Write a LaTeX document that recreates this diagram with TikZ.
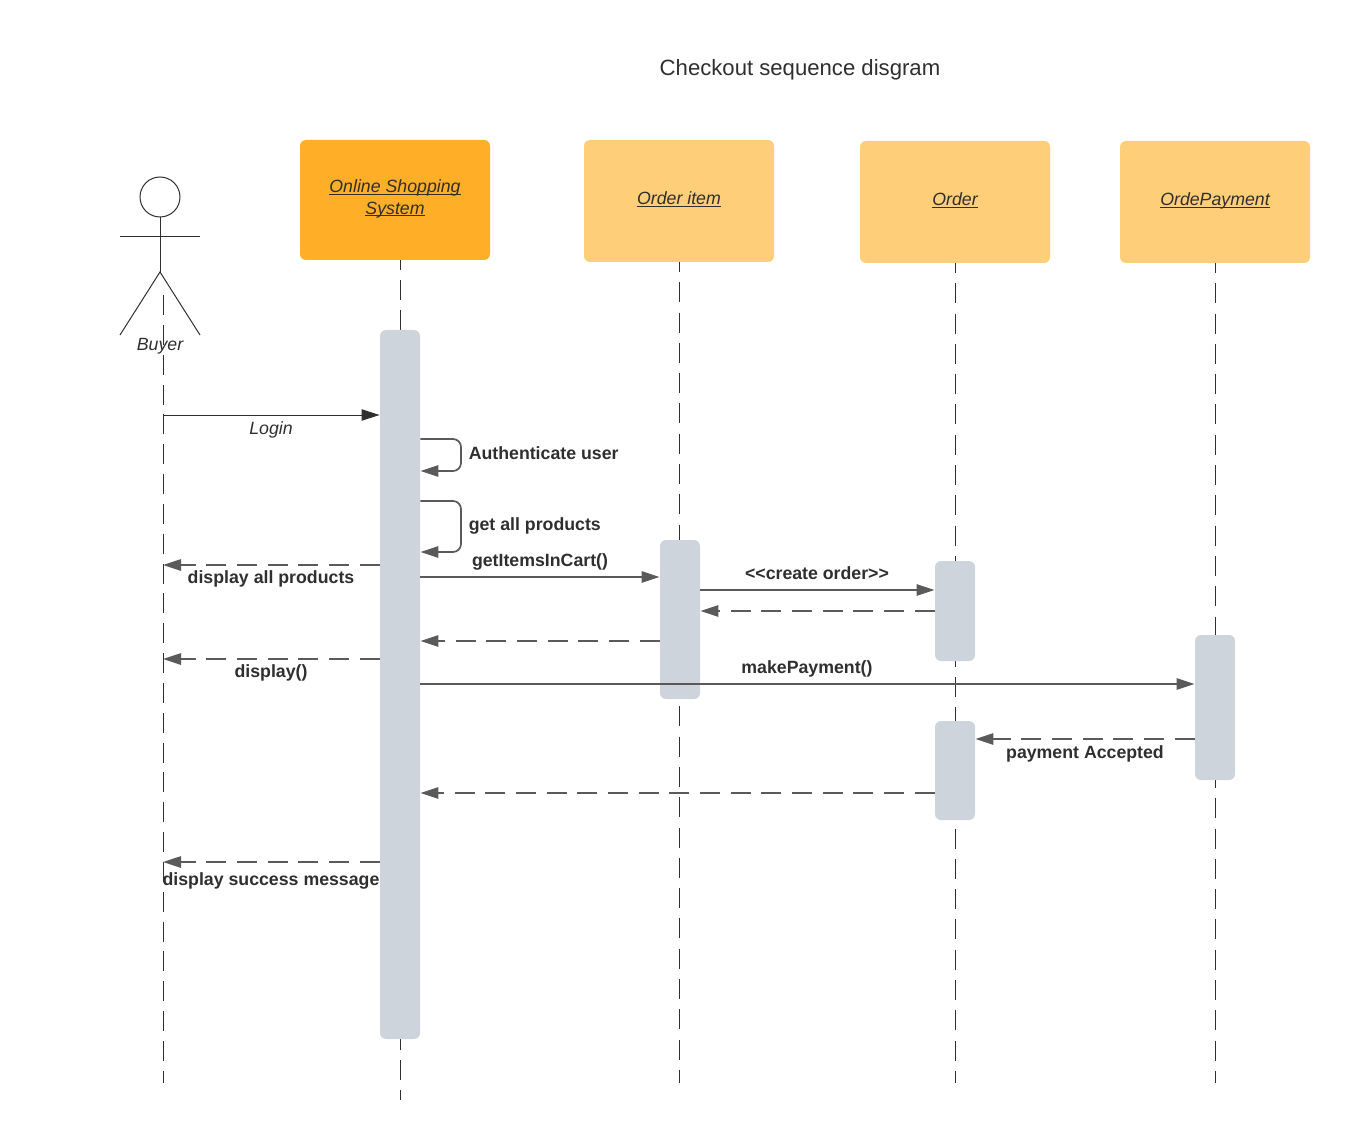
\documentclass[tikz,border=0pt]{standalone}
\usepackage{fontspec}
\setmainfont{Liberation Sans}
\usetikzlibrary{arrows.meta}
\definecolor{headdark}{HTML}{FFAE27}
\definecolor{headlight}{HTML}{FFCE78}
\definecolor{barfill}{HTML}{CED4DC}
\definecolor{msgline}{HTML}{5A5A5A}
\definecolor{txtdark}{HTML}{2F2F2F}
% underline that sits close under the baseline and cuts the descenders
\newcommand{\headul}[1]{\leavevmode\setbox0=\hbox{#1}\rlap{\rule[-1.6pt]{\wd0}{0.65pt}}\box0}
\tikzset{
    headbox/.style={rounded corners=4.5pt,minimum width=142.5pt,inner sep=0pt,outer sep=0pt,text=txtdark,align=center,font=\fontsize{13.3}{15.8}\selectfont\itshape},
    oneline/.style={text height=10pt,text depth=4.5pt},
    barbox/.style={fill=barfill,rounded corners=4.5pt,minimum width=30pt,minimum height=#1*0.75pt,inner sep=0pt,outer sep=0.3pt},
    msg/.style={line width=1.3pt,draw=msgline,-{Triangle[length=13.5pt,width=8.5pt,fill=msgline]}},
    backmsg/.style={msg,dash pattern=on 15pt off 8pt},
    lbl/.style={text=txtdark,inner sep=0pt,text height=12pt,text depth=3pt,font=\fontsize{13.3}{15}\selectfont\bfseries},
    itlbl/.style={text=txtdark,inner sep=0pt,text height=12pt,text depth=3pt,font=\fontsize{13.3}{15}\selectfont\itshape},
    stick/.style={line width=0.75pt,draw=txtdark}
}
\begin{document}
\begin{tikzpicture}[x=0.75pt,y=-0.75pt]
    \useasboundingbox (0,0) rectangle (1350,1141);
    \node [text=txtdark,inner sep=0pt,text height=12pt,text depth=3pt,font=\fontsize{16.6}{19}\selectfont] (title) at (800,70) {Checkout sequence disgram};
    % lifelines
    \foreach \name/\x/\top/\bot/\gap/\phase in {buyer/163/295/1083/7.38/0,sys/400.5/260/1100/7.5/7.5,item/679.5/262/1083/7.72/7.5,order/955/263/1083/7.72/7.5,pay/1215.5/263/1083/7.72/7.5}{%
        \coordinate (\name top) at (\x,\top);
        \coordinate (\name bot) at (\x,\bot);
        \draw [line width=0.75pt,draw=txtdark,dash pattern=on 15pt off \gap pt,dash phase=\phase pt] (\name top) -- (\name bot);
    }
    % header boxes
    \node [headbox,fill=headdark,minimum height=90pt] (syshead) at (395,200) {\headul{Online Shopping}\\\headul{System}\rule[-4.4pt]{0pt}{1pt}};
    \node [headbox,oneline,fill=headlight,minimum height=91.5pt] (itemhead) at (679,201) {\headul{Order item}};
    \node [headbox,oneline,fill=headlight,minimum height=91.5pt] (orderhead) at (955,202) {\headul{Order}};
    \node [headbox,oneline,fill=headlight,minimum height=91.5pt] (payhead) at (1215,202) {\headul{OrdePayment}};
    % actor
    \node [stick,draw,circle,minimum size=30pt,inner sep=0pt,outer sep=0pt] (head) at (160,197) {};
    \coordinate (hip) at (160,272);
    \coordinate (armL) at (120,237);
    \coordinate (armR) at (200,237);
    \coordinate (legL) at (120,335);
    \coordinate (legR) at (200,335);
    \draw [stick] (head.south) -- (hip);
    \draw [stick] (armL) -- (armR);
    \draw [stick] (legL) -- (hip) -- (legR);
    \node [itlbl] (buyer) at (160,344) {Buyer};
    % activation bars
    \node [barbox=709] (sysbar) at (400,684.5) {};
    \node [barbox=159] (itembar) at (680,619.5) {};
    \node [barbox=100] (orderbarA) at (955,611) {};
    \node [barbox=99] (orderbarB) at (955,770.5) {};
    \node [barbox=145] (paybar) at (1215,707.5) {};
    % messages
    \draw [line width=0.75pt,draw=txtdark,-{Triangle[length=13.5pt,width=8.5pt,fill=txtdark]}] (buyertop |- 0,415) -- (sysbar.west |- 0,415);
    \node [itlbl] (login) at (271,428) {Login};
    \draw [msg,rounded corners=6pt] (sysbar.east |- 0,439) -- (461,439) -- (461,471) -- (sysbar.east |- 0,471);
    \node [lbl,anchor=west] (auth) at (468.5,453) {Authenticate user};
    \draw [msg,rounded corners=6pt] (sysbar.east |- 0,501) -- (461,501) -- (461,552) -- (sysbar.east |- 0,552);
    \node [lbl,anchor=west] (allprod) at (468.5,524) {get all products};
    \draw [backmsg] (sysbar.west |- 0,565) -- (buyertop |- 0,565);
    \node [lbl] (dispall) at (271,577) {display all products};
    \draw [msg] (sysbar.east |- 0,577) -- (itembar.west |- 0,577);
    \node [lbl] (getitems) at (540,560) {getItemsInCart()};
    \draw [msg] (itembar.east |- 0,590) -- (orderbarA.west |- 0,590);
    \node [lbl] (create) at (817,573) {<{}<create order>{}>};
    \draw [backmsg] (orderbarA.west |- 0,611) -- (itembar.east |- 0,611);
    \draw [backmsg] (itembar.west |- 0,641) -- (sysbar.east |- 0,641);
    \draw [backmsg] (sysbar.west |- 0,659) -- (buyertop |- 0,659);
    \node [lbl] (disp) at (271,671) {display()};
    \draw [msg] (sysbar.east |- 0,684) -- (paybar.west |- 0,684);
    \node [lbl] (makepay) at (807,667) {makePayment()};
    \draw [backmsg] (paybar.west |- 0,739) -- (orderbarB.east |- 0,739);
    \node [lbl] (accepted) at (1085,752) {payment Accepted};
    \draw [backmsg] (orderbarB.west |- 0,793) -- (sysbar.east |- 0,793);
    \draw [backmsg] (sysbar.west |- 0,862) -- (buyertop |- 0,862);
    \node [lbl] (success) at (271,879) {display success message};
\end{tikzpicture}
\end{document}
